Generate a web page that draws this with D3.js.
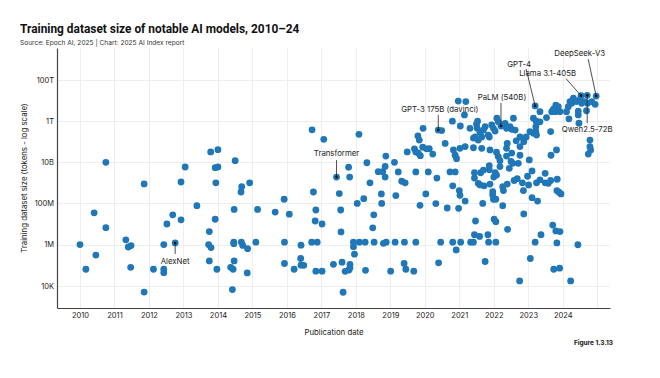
<!DOCTYPE html>
<html><head><meta charset="utf-8">
<script src="https://cdn.jsdelivr.net/npm/d3@7"></script>
<style>body{margin:0;background:#fff}svg{display:block}</style>
</head><body><svg id="c" width="660" height="378"></svg>
<script>
// ---- data ----
const years = [
2010.75,2011.86,2010.41,2010.75,2011.33,2011.40,2011.48,2010.00,2010.46,2010.17,2011.47,2012.13,2012.43,2012.76,2012.43,2012.43,2011.86,2012.52,2012.69,2012.93,
2012.93,2013.05,2013.39,2013.79,2014.00,2013.92,2014.00,2013.94,2014.50,2014.69,2014.67,2014.92,2014.47,2015.15,2013.92,2013.75,2013.73,2013.80,2013.75,2013.97,
2014.46,2014.46,2014.68,2014.72,2014.86,2015.10,2014.47,2014.37,2014.44,2014.85,2014.42,
2016.73,2017.07,2018.09,2017.44,2017.79,2017.82,2018.32,2018.87,2018.85,2018.65,2018.78,2018.85,2019.12,2019.23,2019.49,2019.80,2019.84,2019.95,2019.70,2019.74,
2019.81,2019.87,2019.94,2020.05,2020.13,2020.23,2020.39,2020.49,2020.59,2019.74,2020.10,2020.35,2019.33,2019.43,2018.41,2016.77,2017.52,2018.74,2019.16,2020.03,
2015.92,2018.23,2018.04,2018.75,2019.86,2020.32,2020.65,2015.66,2016.07,2016.84,2017.56,2018.52,2016.82,2017.02,2018.49,2017.57,
2015.93,2016.72,2016.88,2017.93,2018.10,2018.27,2018.53,2018.88,2018.80,2019.14,2019.41,2019.74,2020.46,
2016.41,2017.93,2017.96,2016.40,2015.93,2016.41,2016.49,2016.21,2016.84,2017.02,2017.35,2017.60,2017.83,2017.83,2017.69,2017.80,2018.28,2019.01,2019.40,2019.45,2019.68,2020.40,2017.63,
2020.73,2020.88,2020.81,2021.00,2021.02,2021.17,2020.98,2021.44,2021.62,2021.44,2021.55,2021.60,2021.72,2021.89,2021.87,2021.87,2022.04,2022.00,2022.08,
2021.97,2021.97,2021.99,2022.06,2022.26,2022.28,2022.39,2021.68,2022.26,2022.18,2022.50,2022.55,2022.71,2022.45,2023.03,2022.59,2022.68,2022.83,2022.98,2023.01,
2023.11,2023.24,2023.34,2023.49,2023.49,2023.58,2023.65,2023.84,2022.86,2023.11,2023.27,2023.83,2023.89,2023.95,2022.87,2021.47,2022.01,2022.06,2022.40,2023.71,
2023.80,2023.92,2023.37,2021.44,2021.59,2021.83,2020.81,2021.04,2021.33,2021.41,2021.85,2022.06,2020.91,2023.20,2023.83,2024.44,2021.75,2023.06,2023.74,2023.91,
2022.75,2024.23,
2020.97,2021.19,2020.80,2021.03,2021.15,2021.31,2021.50,2021.52,2021.46,2021.60,2021.65,2021.70,2021.75,2021.84,2021.94,2021.99,2022.04,2022.09,2022.13,2022.21,
2022.33,2022.37,2022.47,2022.52,2022.57,2022.62,2021.41,2021.55,2021.87,2022.39,2022.65,2022.76,2023.05,2023.15,2023.22,2020.83,2021.02,2021.17,2021.41,2021.65,
2021.89,2022.08,2022.13,2022.37,2022.18,2021.70,2020.88,2020.92,
2023.20,2023.34,2023.15,2023.23,2023.34,2023.53,2023.68,2023.73,2023.80,2023.87,2023.78,2023.92,2024.11,2024.21,2024.31,2024.26,2024.40,2024.50,2024.55,2024.45,
2024.53,2024.71,2024.97,2024.84,2024.94,2024.72,2024.47,2023.22,2023.65,2022.87,2022.76,2022.37,2022.52,2022.76,2023.82,2023.66,2024.79,2024.79,2024.81,2024.74,
2022.94,2023.24,2024.45,2024.69,2024.18,2024.16,2024.62,2021.53
];
const tokens = [
1.0e10,8.9e8,3.5e7,6.6e6,1.7e6,7.6e5,8.9e5,1.0e6,3.1e5,6.3e4,7.8e4,6.3e4,1.0e6,1.2e6,6.3e4,4.3e4,4.9e3,1.0e7,2.8e7,1.6e7,
1.1e9,5.9e9,7.8e7,3.2e10,4.1e10,5.5e9,5.9e9,1.0e9,1.2e10,6.5e8,3.6e8,1.0e9,5.1e7,5.1e7,1.7e7,4.3e6,1.0e6,7.1e5,1.6e5,6.3e4,
1.3e6,1.1e6,1.3e6,9.1e5,6.3e5,1.3e6,1.6e5,7.8e4,6.3e4,4.2e4,6.5e3,
3.8e11,1.3e11,2.3e11,1.9e9,5.8e9,1.9e9,9.5e9,2.0e10,6.3e9,3.5e9,3.5e9,1.9e9,1.0e10,3.4e9,3.2e10,1.9e11,1.2e11,4.5e11,4.5e10,3.2e10,
2.8e10,2.1e10,5.4e10,4.5e10,4.6e10,2.5e10,3.7e11,3.5e11,8.3e10,3.4e9,3.4e9,1.7e9,1.2e9,1.0e9,1.0e9,3.6e8,3.0e8,2.9e8,2.4e8,2.9e8,
1.6e8,1.7e8,1.0e8,1.0e8,8.1e7,9.8e7,6.0e7,3.8e7,3.0e7,4.8e7,4.8e7,2.8e7,1.4e7,1.0e7,6.5e6,4.1e6,
1.3e6,1.3e6,1.3e6,1.3e6,1.3e6,1.3e6,1.3e6,1.3e6,1.15e6,1.3e6,1.3e6,1.3e6,1.3e6,
9.3e5,7.9e5,3.4e5,2.1e5,1.2e5,1.0e5,9.8e4,6.3e4,5.1e4,5.1e4,1.1e5,1.4e5,1.1e5,7.4e4,5.0e4,5.8e4,5.6e4,5.1e4,1.2e5,6.3e4,5.1e4,1.3e5,4.8e3,
3.4e9,3.4e9,7.2e8,4.2e8,2.5e8,1.3e8,5.8e7,3.1e9,3.1e9,1.7e9,9.5e8,7.9e8,7.2e8,8.7e8,6.8e9,4.3e9,3.1e9,1.9e9,2.4e9,
3.7e8,2.6e8,1.6e8,1.6e8,6.5e8,4.2e8,8.7e8,1.0e8,7.8e7,1.2e10,1.1e10,8.9e9,8.9e9,5.1e9,1.3e10,1.3e9,1.6e9,1.0e9,2.1e9,7.9e8,
3.8e9,1.0e9,1.4e9,2.9e9,1.0e9,9.5e8,1.3e9,1.5e9,4.2e8,1.9e8,1.3e8,4.2e8,3.5e8,2.9e8,3.1e7,1.4e7,1.7e7,1.3e7,5.5e6,8.9e6,
4.6e6,4.3e6,3.0e6,3.0e6,2.5e6,3.0e6,1.3e6,1.3e6,1.3e6,1.3e6,1.3e6,1.3e6,5.5e5,1.3e6,1.2e6,9.8e5,1.5e5,2.1e5,6.3e4,7.1e4,
1.7e4,1.7e4,
9.5e12,8.9e12,1.0e12,5.8e11,2.0e12,4.5e11,7.1e11,4.5e11,1.7e11,2.9e11,1.7e11,3.7e11,5.4e11,2.1e11,6.5e11,4.5e11,3.3e11,1.4e12,9.3e11,5.8e11,
7.8e11,4.5e11,5.4e11,4.0e11,1.4e12,3.7e11,1.5e11,1.2e11,1.7e11,8.3e10,1.1e11,1.7e11,3.1e11,2.6e11,3.1e11,4.0e10,4.8e10,5.8e10,5.1e10,4.8e10,
4.0e10,3.1e10,1.9e10,2.0e10,6.2e9,4.2e9,2.2e10,1.5e10,
5.5e12,2.9e12,1.4e12,1.0e12,9.3e11,1.5e12,2.9e12,3.8e12,6.0e12,5.0e12,2.9e12,2.9e12,2.9e12,8.9e12,1.3e13,7.4e12,8.9e12,1.1e13,7.4e12,3.1e12,
1.74e13,1.8e13,1.66e13,8.9e12,6.6e12,7.4e12,7.9e11,5.4e11,3.1e11,1.0e11,5.8e10,4.8e10,2.8e10,2.2e10,4.0e10,2.2e10,1.2e11,5.8e10,4.0e10,2.5e10,
1.7e11,2.1e11,2.0e12,3.2e12,1.3e12,5.0e12,8.9e12,1.0e12
];
const xTickYears = [2010,2011,2012,2013,2014,2015,2016,2017,2018,2019,2020,2021,2022,2023,2024];
const xGridYears = [2010,2011,2012,2013,2014,2015,2016,2017,2018,2019,2020,2021,2022,2023,2024,2025];
const yTickValues = [1e4,1e6,1e8,1e10,1e12,1e14];
const yTickLabels = ["10K","1M","100M","10B","1T","100T"];
const annNames  = ["AlexNet","Transformer","GPT-3 175B (davinci)","PaLM (540B)","GPT-4","Llama 3.1-405B","DeepSeek-V3","Qwen2.5-72B"];
const annYears  = [2012.76,2017.44,2020.39,2022.21,2023.20,2024.53,2024.97,2024.71];
const annTokens = [1.2e6,1.9e9,3.7e11,5.8e11,5.5e12,1.74e13,1.66e13,1.8e13];

// ---- layout ----
const FONT = "Inter, 'Noto Sans', sans-serif";
const svg = d3.select("#c").style("font-family", FONT);
const x = d3.scaleLinear().domain([2009.333, 2025.371]).range([57, 610]);
const y = d3.scaleLog().domain([824, 3.6e15]).range([308, 48]);
const blue = "#1f77b8";

svg.append("text").attr("x", 20).attr("y", 33).text("Training dataset size of notable AI models, 2010–24")
  .attr("font-family", "Roboto, sans-serif").attr("font-size", 11.9).attr("font-weight", 700).attr("fill", "#111");
svg.append("text").attr("x", 20).attr("y", 45).text("Source: Epoch AI, 2025 | Chart: 2025 AI Index report")
  .attr("font-size", 6.6).attr("fill", "#333");

// grid
const grid = svg.append("g").attr("stroke", "#eeeeee").attr("stroke-width", 1);
grid.selectAll("line.v").data(xGridYears).join("line")
  .attr("x1", d => Math.round(x(d)) + 0.5).attr("x2", d => Math.round(x(d)) + 0.5)
  .attr("y1", 48).attr("y2", 308);
grid.selectAll("line.h").data(yTickValues).join("line")
  .attr("y1", d => Math.round(y(d)) + 0.5).attr("y2", d => Math.round(y(d)) + 0.5)
  .attr("x1", 57).attr("x2", 610);

// axes
const yAxis = svg.append("g").attr("transform", "translate(57,0)")
  .call(d3.axisLeft(y).tickValues(yTickValues).tickFormat((d, i) => yTickLabels[i]).tickSize(0).tickPadding(3));
const xAxis = svg.append("g").attr("transform", "translate(0,308)")
  .call(d3.axisBottom(x).tickValues(xTickYears).tickFormat(d3.format("d")).tickSize(0).tickPadding(5));
[yAxis, xAxis].forEach(a => {
  a.select(".domain").attr("stroke", "#444").attr("stroke-width", 1.2);
  a.selectAll("text").attr("font-family", FONT).attr("font-size", 7.5).attr("fill", "#222");
});

svg.append("text").attr("transform", "translate(27,178) rotate(-90)").attr("text-anchor", "middle")
  .attr("font-size", 7.8).attr("fill", "#222").text("Training dataset size (tokens - log scale)");
svg.append("text").attr("x", 334).attr("y", 335).attr("text-anchor", "middle")
  .attr("font-size", 7.8).attr("fill", "#222").text("Publication date");
svg.append("text").attr("x", 613).attr("y", 345).attr("text-anchor", "end")
  .attr("font-size", 6.5).attr("font-weight", 700).attr("fill", "#111").text("Figure 1.3.13");

// points
const pts = years.map((yr, i) => ({yr, v: tokens[i]}));
svg.append("g").selectAll("circle").data(pts).join("circle")
  .attr("cx", d => x(d.yr)).attr("cy", d => y(d.v)).attr("r", 3.4).attr("fill", blue);

// annotations: label position as offset from the point
const annLayout = [
  {tx: 0,   ty: 19,  a: "middle", lx: 0,  ly: 11},
  {tx: 0,   ty: -23, a: "middle", lx: 0,  ly: -17},
  {tx: -37, ty: -20, a: "start",  lx: 0,  ly: -15},
  {tx: 1,   ty: -28, a: "middle", lx: 0,  ly: -23},
  {tx: -16, ty: -41, a: "middle", lx: -9, ly: -37},
  {tx: -5,  ty: -22, a: "end",    lx: -15,ly: -17},
  {tx: 9,   ty: -42, a: "end",    lx: -8, ly: -37},
  {tx: 0,   ty: 35,  a: "middle", lx: 0,  ly: 28}
];
const ann = svg.append("g");
annNames.forEach((n, i) => {
  const px = x(annYears[i]), py = y(annTokens[i]), L = annLayout[i];
  ann.append("line").attr("x1", px + L.lx).attr("y1", py + L.ly).attr("x2", px).attr("y2", py)
    .attr("stroke", "#222").attr("stroke-width", 0.8);
  ann.append("circle").attr("cx", px).attr("cy", py).attr("r", 1.3).attr("fill", "#111");
  ann.append("text").attr("x", px + L.tx).attr("y", py + L.ty).attr("text-anchor", L.a)
    .attr("dominant-baseline", "middle").attr("font-size", 7.8).attr("fill", "#222").text(n);
});
</script></body></html>
